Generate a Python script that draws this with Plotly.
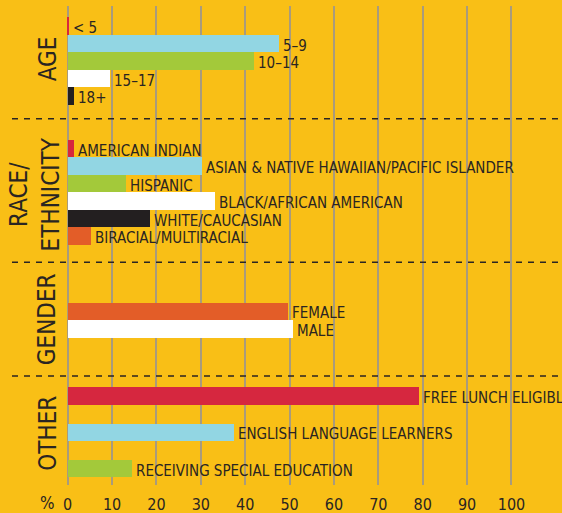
import plotly.graph_objects as go

# ---- data ----
age_labels = ["< 5", "5–9", "10–14", "15–17", "18+"]
age_values = [0.4, 47.6, 42.0, 9.5, 1.4]

race_labels = ["AMERICAN INDIAN", "ASIAN & NATIVE HAWAIIAN/PACIFIC ISLANDER", "HISPANIC",
               "BLACK/AFRICAN AMERICAN", "WHITE/CAUCASIAN", "BIRACIAL/MULTIRACIAL"]
race_values = [1.4, 30.2, 13.2, 33.2, 18.6, 5.3]

gender_labels = ["FEMALE", "MALE"]
gender_values = [49.6, 50.7]

other_labels = ["FREE LUNCH ELIGIBLE", "ENGLISH LANGUAGE LEARNERS", "RECEIVING SPECIAL EDUCATION"]
other_values = [79.2, 37.5, 14.5]

x_ticks = [0, 10, 20, 30, 40, 50, 60, 70, 80, 90, 100]

# ---- styles ----
BG = "#F9BF16"
RED = "#D6273F"
CYAN = "#92D6E3"
GREEN = "#A3C93A"
WHITE = "#FFFFFF"
BLACK = "#231F20"
ORANGE = "#E35D28"
TXT = "#2A2522"
GRID = "#A99B7C"
FONT = "Liberation Sans Narrow, DejaVu Sans Condensed, Roboto Condensed, Arial Narrow, sans-serif"

age_colors = [RED, CYAN, GREEN, WHITE, BLACK]
race_colors = [RED, CYAN, GREEN, WHITE, BLACK, ORANGE]
gender_colors = [ORANGE, WHITE]
other_colors = [RED, CYAN, GREEN]

# layout: (title, first row position, row step, title position) in row units
groups = [
    ("AGE", age_labels, age_values, age_colors, 0.0, 1.0, 1.86),
    ("RACE/<br>ETHNICITY", race_labels, race_values, race_colors, 7.0, 1.0, 9.6),
    ("GENDER", gender_labels, gender_values, gender_colors, 16.3, 1.0, 16.77),
    ("OTHER", other_labels, other_values, other_colors, 21.15, 2.07, 23.26),
]
separators = [5.3, 13.5, 20.0]

fig = go.Figure()
annotations = []
for title, labels, values, colors, start, step, title_pos in groups:
    ys = [start + i * step for i in range(len(labels))]
    fig.add_trace(go.Bar(
        x=values, y=ys, orientation="h", width=1.0,
        marker=dict(color=colors, line=dict(width=0)),
        hoverinfo="skip", showlegend=False,
    ))
    for lab, v, yy in zip(labels, values, ys):
        annotations.append(dict(
            x=v, y=yy, xref="x", yref="y", text=lab, showarrow=False,
            xanchor="left", yanchor="middle", xshift=2, yshift=-2,
            font=dict(family=FONT, size=15, color=TXT),
        ))
    annotations.append(dict(
        x=-4.5 if "<br>" not in title else -7.5, y=title_pos, xref="x", yref="y",
        text=title, showarrow=False, textangle=-90,
        xanchor="center", yanchor="middle",
        font=dict(family=FONT, size=24, color=TXT),
    ))

annotations.append(dict(
    x=47 / 562, y=-0.037, xref="paper", yref="paper", text="%", showarrow=False,
    xanchor="center", yanchor="middle", font=dict(family=FONT, size=17, color=TXT),
))

shapes = []
for s in separators:
    shapes.append(dict(
        type="line", xref="paper", yref="y", x0=12 / 562, x1=1, y0=s, y1=s,
        line=dict(color="#2A2522", width=1.6, dash="6px,6px"),
    ))

fig.update_layout(
    width=562, height=513,
    margin=dict(l=0, r=0, t=6, b=28, autoexpand=False),
    paper_bgcolor=BG, plot_bgcolor=BG,
    bargap=0,
    annotations=annotations,
    shapes=shapes,
    xaxis=dict(
        range=[-15.25, 111.38], tickvals=x_ticks, ticktext=[str(t) for t in x_ticks],
        showgrid=True, gridcolor=GRID, gridwidth=1.5, zeroline=False, showline=False,
        ticks="", ticklabelstandoff=8, automargin=False,
        tickfont=dict(family=FONT, size=16, color=TXT), fixedrange=True,
    ),
    yaxis=dict(range=[26.229, -1.143], visible=False, showgrid=False, zeroline=False,
               fixedrange=True, automargin=False),
)

fig.write_html(
    "out.html",
    config={"displayModeBar": False},
    post_script="document.body.style.margin='0';document.body.style.overflow='hidden';",
)
